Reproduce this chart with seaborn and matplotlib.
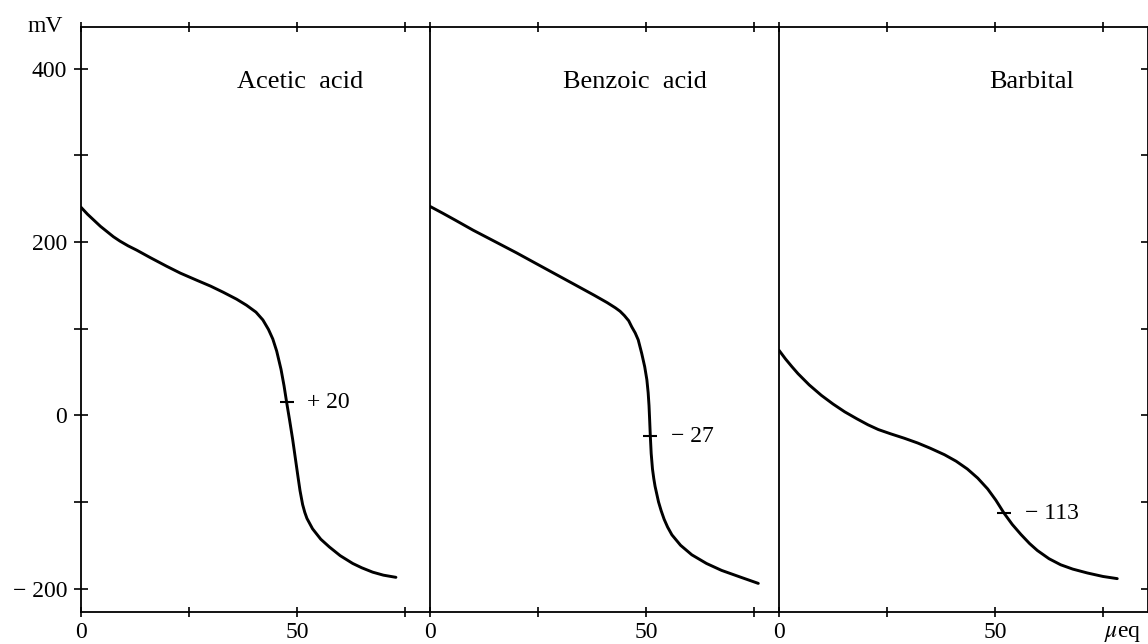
import matplotlib
matplotlib.use("Agg")
import matplotlib.pyplot as plt
import seaborn as sns
import pandas as pd

# ---------------- data ----------------
titles = ["Acetic  acid", "Benzoic  acid", "Barbital"]

acetic_x = [0, 1.5, 3, 4.5, 6, 7.5, 9, 10.9, 12.9, 16, 19.8, 23, 26.7, 30, 32.9, 36, 38.3,
            40.5, 42.1, 43.4, 44.4, 45.3, 46.3, 47.0, 47.6, 48.3, 49.0, 49.6, 50.2,
            50.7, 51.3, 51.8, 52.3, 53.6, 55.5, 57.5, 60, 62.9, 65, 67.5, 70, 72.9]
acetic_mv = [240, 232, 225, 218, 212, 206, 201, 195.5, 190.5, 182, 172, 164, 156, 149,
             142, 134, 127, 119, 110, 99, 88, 74, 53, 34, 15, -6, -28, -49, -70,
             -87, -103, -112, -119, -131, -143, -152, -162, -171, -176, -181, -184.5, -187]

benzoic_x = [0, 3, 5.9, 10, 15.2, 20, 24.4, 29, 33.6, 38, 41, 42.9, 44.0, 45.0, 46.0,
             46.7, 47.5, 48.2, 49.0, 49.7, 50.2, 50.5, 50.7, 50.85, 51.0, 51.2, 51.5,
             51.8, 52.1, 52.9, 53.5, 54.2, 55.0, 56.0, 58, 60.6, 64, 67.5, 72, 76.0]
benzoic_mv = [241, 233, 225, 213.5, 200, 187.5, 175.5, 163, 150.5, 138.5, 130, 124, 120,
              115, 109, 102, 95, 87, 71.5, 56, 41, 26, 11, -6, -24, -44, -62,
              -73, -82, -100, -110, -120, -129, -138, -150, -161, -171, -179, -187, -194]

barbital_x = [0, 1.5, 3, 4.4, 7, 9.8, 12.5, 15.2, 18, 20.6, 23, 25.9, 29, 32.1, 35, 38.3,
              41, 43.6, 46, 48.3, 50.2, 52.1, 54, 56.0, 58, 59.8, 62.5, 65.2, 68,
              71.4, 75, 78.3]
barbital_mv = [75, 65, 56, 48, 35, 23, 13, 4, -4, -11, -16.5, -21.5, -26.5, -32, -38,
               -45.5, -53, -62, -72.5, -85, -98, -113, -126, -137.5, -148, -156,
               -165.5, -172.5, -177.5, -182, -186, -188.5]

half_x = [47.6, 51.0, 52.1]
half_mv = [15, -24, -113]
half_labels = ["+ 20", "\u2212 27", "\u2212 113"]

y_ticks = [-200, -100, 0, 100, 200, 300, 400]
y_ticklabels = ["\u2212 200", "", "0", "", "200", "", "400"]
x_ticks = [0, 25, 50, 75]
x_ticklabels = ["0", "", "50", ""]

curves = [(acetic_x, acetic_mv), (benzoic_x, benzoic_mv), (barbital_x, barbital_mv)]

# ---------------- style ----------------
sns.set_theme(style="white")
plt.rcParams["font.family"] = ["Liberation Serif", "DejaVu Serif"]
plt.rcParams["mathtext.fontset"] = "stix"
for k in ["text.color", "axes.labelcolor", "xtick.color", "ytick.color", "axes.edgecolor"]:
    plt.rcParams[k] = "black"

W, H = 1148, 644
fig = plt.figure(figsize=(W / 100, H / 100), dpi=100)

edges = [81, 430, 779, 1147.5]
top_px, bot_px = 27, 612
px_per_unit = 4.32
xmaxes = [(edges[i + 1] - edges[i]) / px_per_unit for i in range(3)]
title_pos = [(50.8, 384), (47.5, 384), (58.4, 384)]

for i in range(3):
    ax = fig.add_axes([edges[i] / W, 1 - bot_px / H,
                       (edges[i + 1] - edges[i]) / W, (bot_px - top_px) / H])
    ax.set_facecolor("white")
    df = pd.DataFrame({"x": curves[i][0], "mV": curves[i][1]})
    sns.lineplot(data=df, x="x", y="mV", ax=ax, color="black", lw=2.1,
                 estimator=None, sort=False)
    ax.plot([half_x[i]], [half_mv[i]], marker="_", color="black",
            markersize=10, mew=1.5, ls="none")
    ax.annotate(half_labels[i], xy=(half_x[i], half_mv[i]), xytext=(15, 0),
                textcoords="offset points", ha="left", va="center", fontsize=17,
                color="black")
    ax.text(title_pos[i][0], title_pos[i][1], titles[i], ha="center", va="center",
            fontsize=19, color="black")

    ax.set_xlim(0, xmaxes[i])
    ax.set_ylim(-227, 448)
    ax.set_xlabel("")
    ax.set_ylabel("")

    for s in ax.spines.values():
        s.set_color("black")
        s.set_linewidth(1.3)
    ax.spines["right"].set_visible(i == 2)

    ax.set_xticks(x_ticks)
    ax.set_xticklabels(x_ticklabels)
    ax.tick_params(axis="x", which="both", direction="inout", length=7, width=1.2,
                   top=True, bottom=True, labeltop=False, labelbottom=True,
                   labelsize=17, pad=4, color="black", labelcolor="black")
    ax.set_yticks(y_ticks)
    if i == 0:
        ax.set_yticklabels(y_ticklabels)
        ax.tick_params(axis="y", direction="inout", length=10, width=1.2,
                       left=True, right=False, labelleft=True, labelsize=17,
                       pad=5, color="black", labelcolor="black")
    else:
        ax.tick_params(axis="y", left=False, labelleft=False,
                       right=(i == 2), labelright=False,
                       direction="inout", length=10, width=1.2, color="black")
    ax.grid(False)

fig.text(45 / W, 1 - 27 / H, "mV", ha="center", va="center", fontsize=17, color="black")
fig.text(1123 / W, 1 - 633 / H, r"$\mu$eq", ha="center", va="center", fontsize=17,
         color="black")

fig.savefig("out.png", dpi=100, facecolor="white")
